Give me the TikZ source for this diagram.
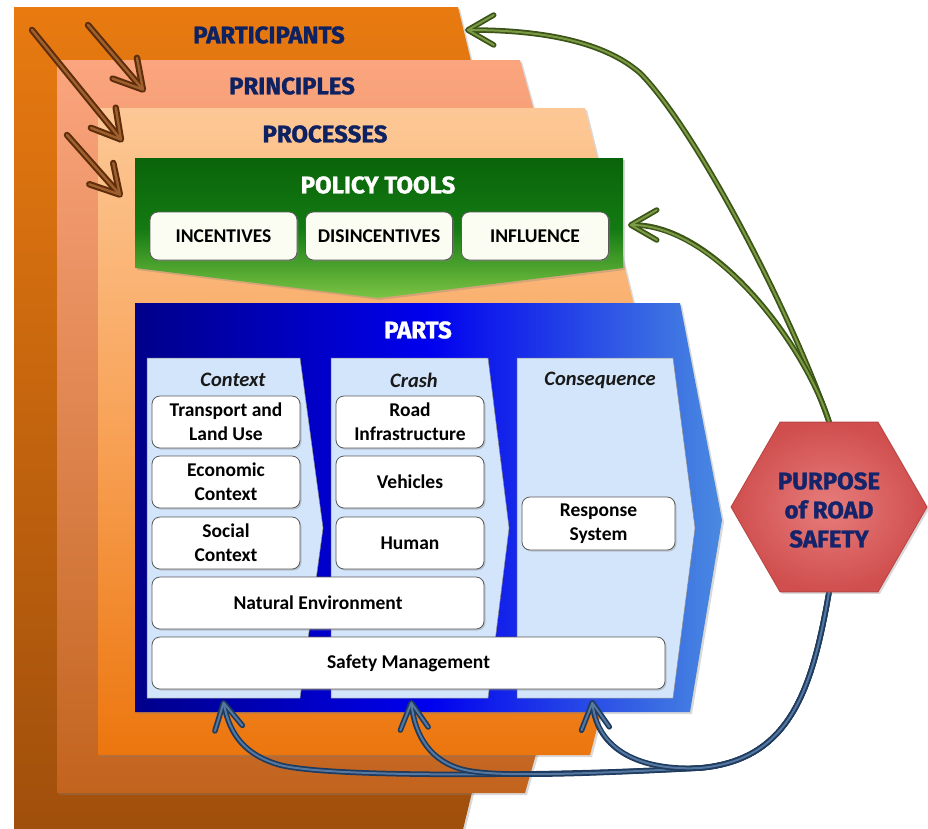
\documentclass[tikz,border=0pt]{standalone}
\usepackage{fontspec}
\setmainfont{Carlito}
\newfontfamily\titlefont{Fira Sans}[BoldFeatures={FakeBold=1.2}]
\usetikzlibrary{shapes.geometric,arrows.meta,shadows}
\pgfdeclarelayer{front}
\pgfsetlayers{main,front}
\definecolor{navytxt}{HTML}{0E2160}
\definecolor{hextxt}{HTML}{15246A}
\definecolor{laOneT}{HTML}{E87A10}
\definecolor{laOneB}{HTML}{9E4E0C}
\definecolor{laTwoT}{HTML}{FBA57F}
\definecolor{laTwoB}{HTML}{C2641E}
\definecolor{laThrT}{HTML}{FDC896}
\definecolor{laThrM}{HTML}{F8A257}
\definecolor{laThrB}{HTML}{EC760E}
\definecolor{grT}{HTML}{0A640A}
\definecolor{grM}{HTML}{137A12}
\definecolor{grB}{HTML}{7CC444}
\definecolor{blL}{HTML}{00008A}
\definecolor{blM}{HTML}{0000EE}
\definecolor{blR}{HTML}{4A8AE0}
\definecolor{colfill}{HTML}{D3E5FB}
\definecolor{boxedge}{HTML}{5A5A5A}
\definecolor{pfill}{HTML}{FBFCF2}
\definecolor{hexIn}{HTML}{E67D7B}
\definecolor{hexOut}{HTML}{D04E4E}
\definecolor{hexEdge}{HTML}{B84444}
\definecolor{brD}{HTML}{5E2D0B}
\definecolor{brL}{HTML}{A0602E}
\definecolor{gnD}{HTML}{3C5418}
\definecolor{gnL}{HTML}{7A9A44}
\definecolor{buD}{HTML}{1F3B5E}
\definecolor{buL}{HTML}{5578A2}
\newcommand{\dtube}[2]{\draw[#1 outer] #2; \draw[#1 inner] #2;}
\begin{document}
\begin{tikzpicture}[x=1pt,y=-1pt,
  title/.style={font=\titlefont\bfseries\fontsize{24}{29}\selectfont, text=navytxt, inner sep=0pt},
  whitetitle/.style={font=\titlefont\bfseries\fontsize{24}{29}\selectfont, text=white, inner sep=0pt},
  coltitle/.style={font=\bfseries\itshape\fontsize{20.5}{24}\selectfont, text=black!90, inner sep=0pt},
  partbox/.style={draw=boxedge, line width=0.8pt, fill=white, rounded corners=8pt,
    minimum width=148pt, minimum height=52pt, align=center, inner sep=1pt,
    font=\bfseries\fontsize{19.5}{24}\selectfont,
    drop shadow={shadow xshift=1.5pt, shadow yshift=-1.5pt, opacity=0.35}},
  pbox/.style={partbox, fill=pfill, minimum width=147pt, minimum height=48pt},
  column/.style={fill=colfill, draw=black!45, line width=0.5pt},
  layer/.style={drop shadow={shadow xshift=2pt, shadow yshift=-2pt, opacity=0.3}},
  brn outer/.style={draw=brD, line width=6.5pt, line cap=round, -{Straight Barb[round,length=28pt,width=32pt]}},
  brn inner/.style={draw=brL, line width=2.4pt, line cap=round, shorten >=2pt, -{Straight Barb[round,length=28pt,width=32pt]}},
  grn outer/.style={draw=gnD, line width=5.5pt, line cap=round, -{Straight Barb[round,length=26pt,width=30pt]}},
  grn inner/.style={draw=gnL, line width=2pt, line cap=round, shorten >=1.8pt, -{Straight Barb[round,length=26pt,width=30pt]}},
  blu outer/.style={draw=buD, line width=5.5pt, line cap=round, -{Straight Barb[round,length=26pt,width=28pt]}},
  blu inner/.style={draw=buL, line width=2pt, line cap=round, shorten >=1.8pt, -{Straight Barb[round,length=26pt,width=28pt]}},
  hextext/.style={font=\titlefont\bfseries\fontsize{24}{29}\selectfont, text=hextxt, align=center, inner sep=0pt}
]
\useasboundingbox (0,0) rectangle (928,828);

% layers
\path[layer, top color=laOneT, bottom color=laOneB] (14,7) -- (458,7) -- (560,430) -- (458,850) -- (14,850) -- cycle;
\path[layer, top color=laTwoT, bottom color=laTwoB] (57,60) -- (520,60) -- (625,440) -- (525,793) -- (57,793) -- cycle;
\path[layer, top color=laThrT, bottom color=laThrB, middle color=laThrM] (98,108) -- (585,108) -- (670,450) -- (590,755) -- (98,755) -- cycle;

\node[title] (tpart) at (269,35) {PARTICIPANTS};
\node[title] (tprin) at (292,86) {PRINCIPLES};
\node[title] (tproc) at (325,134) {PROCESSES};

% policy tools
\path[layer, top color=grT, bottom color=grB, middle color=grM] (135,158) -- (623,158) -- (623,268) -- (378,298) -- (135,268) -- cycle;
\node[whitetitle] (tpol) at (378,185) {POLICY TOOLS};
\node[pbox] (inc) at (223.5,236) {INCENTIVES};
\node[pbox] (dis) at (379,236) {DISINCENTIVES};
\node[pbox] (inf) at (535,236) {INFLUENCE};

% parts
\path[layer, left color=blL, right color=blR, middle color=blM] (135,303) -- (680,303) -- (722,520) -- (690,712) -- (135,712) -- cycle;
\node[whitetitle] (tparts) at (418,330) {PARTS};

\path[column] (147,358) -- (300,358) -- (323,528) -- (300,698) -- (147,698) -- cycle;
\path[column] (331,358) -- (488,358) -- (509,528) -- (488,698) -- (331,698) -- cycle;
\path[column] (517,358) -- (673,358) -- (695,528) -- (673,698) -- (517,698) -- cycle;

\node[coltitle] (tctx) at (233,380) {Context};
\node[coltitle] (tcr) at (414,380) {Crash};
\node[coltitle] (tcon) at (600,380) {Consequence};

\node[partbox] (tlu) at (226,422) {Transport and\\Land Use};
\node[partbox] (eco) at (226,482) {Economic\\Context};
\node[partbox] (soc) at (226,543) {Social\\Context};
\node[partbox] (road) at (410,422) {Road\\Infrastructure};
\node[partbox] (veh) at (410,482) {Vehicles};
\node[partbox] (hum) at (410,543) {Human};
\node[partbox, minimum width=153pt, minimum height=53pt] (resp) at (598.5,523.5) {Response\\System};
\node[partbox, minimum width=332pt] (nat) at (318,603) {Natural Environment};
\node[partbox, minimum width=513pt] (safe) at (408.5,663) {Safety Management};

% hexagon (front layer)
\begin{pgfonlayer}{front}
\node[regular polygon, regular polygon sides=6, minimum size=196pt, inner sep=0pt,
  shading=radial, inner color=hexIn, outer color=hexOut, draw=hexEdge, line width=0.8pt,
  drop shadow={shadow xshift=2pt, shadow yshift=-2pt, opacity=0.3}] (hex) at (829,507) {};
\node[hextext] (hext) at (829,510) {PURPOSE\\of ROAD\\SAFETY};
\end{pgfonlayer}

% coordinates for arrow ends
\coordinate (s1) at (88,25);
\coordinate (s2) at (32,30);
\coordinate (s3) at (67,135);
\coordinate (c2) at (145,92);
\coordinate (c3) at (123,142);
\coordinate (c4) at (122,197);
\coordinate (partR) at (465,30);
\coordinate (polR) at (628,225);
\coordinate (t1) at (223,700);
\coordinate (t2) at (411,700);
\coordinate (t3) at (592,700);

% brown arrows
\dtube{brn}{(s1) -- (c2)}
\dtube{brn}{(s2) -- (c3)}
\dtube{brn}{(s3) -- (c4)}

% green arrows
\dtube{grn}{(hex.north) .. controls (790,310) and (695,128) .. (640,73) .. controls (600,38) and (530,30) .. (partR)}
\dtube{grn}{(hex.north) .. controls (805,345) and (715,225) .. (polR)}

% blue arrows
\dtube{blu}{(hex.south) .. controls (812,690) and (790,760) .. (700,768) .. controls (560,776) and (330,778) .. (280,765) .. controls (245,755) and (230,735) .. (t1)}
\dtube{blu}{(hex.south) .. controls (812,690) and (790,760) .. (700,768) .. controls (600,773) and (500,778) .. (465,770) .. controls (430,762) and (415,735) .. (t2)}
\dtube{blu}{(hex.south) .. controls (812,690) and (790,760) .. (700,768) .. controls (640,771) and (598,750) .. (t3)}
\end{tikzpicture}
\end{document}
